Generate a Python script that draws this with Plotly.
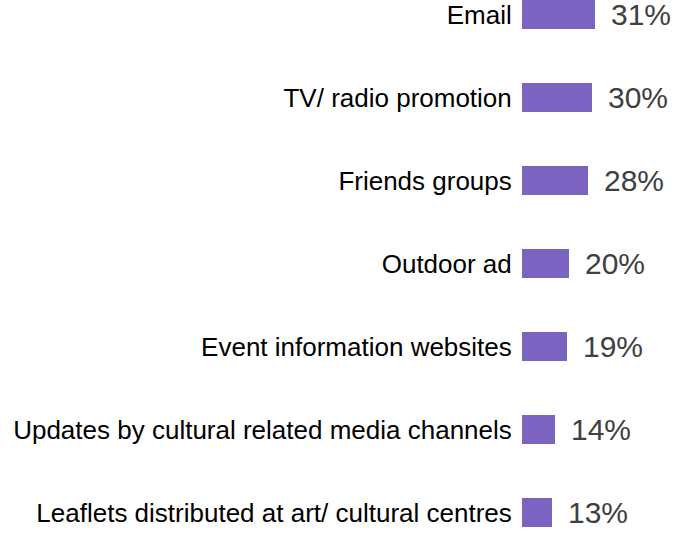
import plotly.graph_objects as go

categories = [
    "Leaflets distributed at art/ cultural centres",
    "Updates by cultural related media channels",
    "Event information websites",
    "Outdoor ad",
    "Friends groups",
    "TV/ radio promotion",
    "Email",
]
values = [13, 14, 19, 20, 28, 30, 31]
value_labels = [f"{v}%" for v in values]

BAR_COLOR = "#7B63C2"
FONT = "Arial, Liberation Sans, sans-serif"

fig = go.Figure()
fig.add_trace(go.Bar(
    x=values,
    y=categories,
    orientation="h",
    width=0.35,
    marker=dict(color=BAR_COLOR, line=dict(width=0)),
    hoverinfo="skip",
))

for v, c, t in zip(values, categories, value_labels):
    fig.add_annotation(
        x=v, y=c, text=t, showarrow=False,
        xanchor="left", yanchor="middle", xshift=14,
        font=dict(family=FONT, size=30, color="#404040"),
    )

fig.update_layout(
    width=680, height=534,
    margin=dict(l=522, r=0, t=0, b=0),
    plot_bgcolor="white", paper_bgcolor="white",
    showlegend=False,
    bargap=0,
    xaxis=dict(range=[0, 67.4], visible=False, fixedrange=True),
    yaxis=dict(
        range=[-0.259, 6.175],
        type="category",
        categoryorder="array", categoryarray=categories,
        showgrid=False, zeroline=False, showline=False,
        ticks="outside", ticklen=4, tickcolor="rgba(0,0,0,0)",
        tickfont=dict(family=FONT, size=26, color="#000000"),
        fixedrange=True,
    ),
)

fig.write_html("out.html", config={"displayModeBar": False})

with open("out.html", "r", encoding="utf-8") as f:
    html = f.read()
html = html.replace("<body>", '<body style="margin:0;padding:0;overflow:hidden">', 1)
with open("out.html", "w", encoding="utf-8") as f:
    f.write(html)
